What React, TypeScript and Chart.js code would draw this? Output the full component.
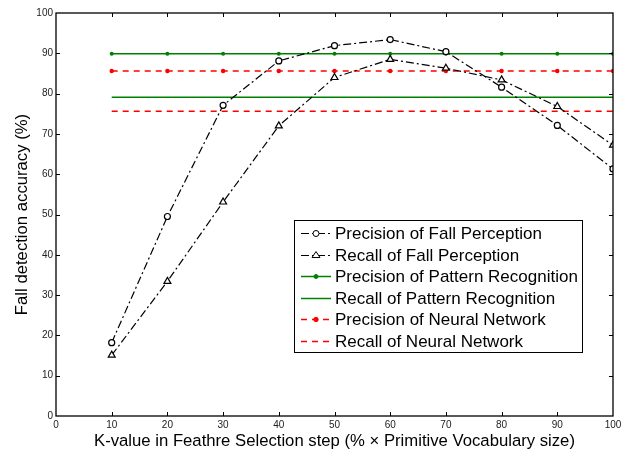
import React, { useEffect, useRef } from "react";
import { Chart, registerables } from "chart.js";

Chart.register(...registerables);

const kValues = [10, 20, 30, 40, 50, 60, 70, 80, 90, 100];
const precisionFall = [18.2, 49.5, 77.1, 88.1, 91.9, 93.4, 90.4, 81.6, 72.1, 61.3];
const recallFall = [15.1, 33.4, 53.1, 72.0, 84.0, 88.5, 86.3, 83.4, 76.8, 67.2];
const precisionPattern = [89.9, 89.9, 89.9, 89.9, 89.9, 89.9, 89.9, 89.9, 89.9, 89.9];
const recallPattern = [79.1, 79.1, 79.1, 79.1, 79.1, 79.1, 79.1, 79.1, 79.1, 79.1];
const precisionNeural = [85.6, 85.6, 85.6, 85.6, 85.6, 85.6, 85.6, 85.6, 85.6, 85.6];
const recallNeural = [75.6, 75.6, 75.6, 75.6, 75.6, 75.6, 75.6, 75.6, 75.6, 75.6];

const seriesLabels = [
  "Precision of Fall Perception",
  "Recall of Fall Perception",
  "Precision of Pattern Recognition",
  "Recall of Pattern Recognition",
  "Precision of Neural Network",
  "Recall of Neural Network",
];

const xTitle = "K-value in Feathre Selection step (% \u00d7 Primitive Vocabulary size)";
const yTitle = "Fall detection accuracy (%)";

const FONT = "'Liberation Sans', Arial, sans-serif";
const GREEN = "#008000";
const RED = "#ff0000";

const toPoints = (ys: number[]) => kValues.map((x, i) => ({ x, y: ys[i] }));

const framePlugin = {
  id: "frame",
  afterDatasetsDraw(chart: any) {
    const { ctx, chartArea } = chart;
    const { left, right, top, bottom } = chartArea;
    const xs = chart.scales.x;
    const ys = chart.scales.y;
    ctx.save();
    ctx.strokeStyle = "#000";
    ctx.lineWidth = 1.3;
    ctx.setLineDash([]);
    ctx.strokeRect(left, top, right - left, bottom - top);
    ctx.lineWidth = 1;
    const t = 4;
    for (let v = 10; v < 100; v += 10) {
      const px = Math.round(xs.getPixelForValue(v)) + 0.5;
      ctx.beginPath();
      ctx.moveTo(px, bottom);
      ctx.lineTo(px, bottom - t);
      ctx.moveTo(px, top);
      ctx.lineTo(px, top + t);
      ctx.stroke();
      const py = Math.round(ys.getPixelForValue(v)) + 0.5;
      ctx.beginPath();
      ctx.moveTo(left, py);
      ctx.lineTo(left + t, py);
      ctx.moveTo(right, py);
      ctx.lineTo(right - t, py);
      ctx.stroke();
    }
    ctx.restore();
  },
};

const legendPlugin = {
  id: "boxLegend",
  afterDraw(chart: any) {
    const { ctx } = chart;
    const bx = 294.5;
    const by = 220.5;
    const bw = 288;
    const bh = 132;
    ctx.save();
    ctx.fillStyle = "#fff";
    ctx.fillRect(bx, by, bw, bh);
    ctx.strokeStyle = "#000";
    ctx.lineWidth = 1;
    ctx.setLineDash([]);
    ctx.strokeRect(bx, by, bw, bh);
    ctx.font = `17px ${FONT}`;
    ctx.textBaseline = "middle";
    ctx.textAlign = "left";
    chart.data.datasets.forEach((ds: any, i: number) => {
      const y = Math.round(233 + i * 21.6) + 0.5;
      const x0 = 301;
      const x1 = 331;
      ctx.strokeStyle = ds.borderColor;
      ctx.lineWidth = ds.borderWidth;
      ctx.setLineDash(ds.borderDash || []);
      ctx.beginPath();
      ctx.moveTo(x0, y);
      ctx.lineTo(x1, y);
      ctx.stroke();
      ctx.setLineDash([]);
      const mx = (x0 + x1) / 2;
      const r = ds.pointRadius || 0;
      if (r > 0) {
        ctx.fillStyle = ds.pointBackgroundColor;
        ctx.strokeStyle = ds.pointBorderColor;
        ctx.lineWidth = 1;
        ctx.beginPath();
        if (ds.pointStyle === "triangle") {
          const h = r * 1.5;
          ctx.moveTo(mx, y - h * 0.66);
          ctx.lineTo(mx + r, y + h * 0.34);
          ctx.lineTo(mx - r, y + h * 0.34);
          ctx.closePath();
        } else {
          ctx.arc(mx, y, r, 0, Math.PI * 2);
        }
        ctx.fill();
        ctx.stroke();
      }
      ctx.fillStyle = "#000";
      ctx.fillText(ds.label, 335, y + 0.5);
    });
    ctx.restore();
  },
};

export default function App() {
  const ref = useRef<HTMLCanvasElement | null>(null);

  useEffect(() => {
    if (!ref.current) return;
    const chart = new Chart(ref.current, {
      type: "line",
      data: {
        datasets: [
          {
            label: seriesLabels[0],
            data: toPoints(precisionFall),
            borderColor: "#000",
            borderWidth: 1.2,
            borderDash: [8, 3, 2, 3],
            pointStyle: "circle",
            pointRadius: 3,
            pointBackgroundColor: "#fff",
            pointBorderColor: "#000",
            pointBorderWidth: 1.2,
          },
          {
            label: seriesLabels[1],
            data: toPoints(recallFall),
            borderColor: "#000",
            borderWidth: 1.2,
            borderDash: [8, 3, 2, 3],
            pointStyle: "triangle",
            pointRadius: 4,
            pointBackgroundColor: "#fff",
            pointBorderColor: "#000",
            pointBorderWidth: 1.2,
          },
          {
            label: seriesLabels[2],
            data: toPoints(precisionPattern),
            borderColor: GREEN,
            borderWidth: 1.5,
            pointStyle: "circle",
            pointRadius: 2,
            pointBackgroundColor: GREEN,
            pointBorderColor: GREEN,
            pointBorderWidth: 0,
          },
          {
            label: seriesLabels[3],
            data: toPoints(recallPattern),
            borderColor: GREEN,
            borderWidth: 1.5,
            pointRadius: 0,
          },
          {
            label: seriesLabels[4],
            data: toPoints(precisionNeural),
            borderColor: RED,
            borderWidth: 1.5,
            borderDash: [6, 5],
            pointStyle: "circle",
            pointRadius: 2.2,
            pointBackgroundColor: RED,
            pointBorderColor: RED,
            pointBorderWidth: 0,
          },
          {
            label: seriesLabels[5],
            data: toPoints(recallNeural),
            borderColor: RED,
            borderWidth: 1.5,
            borderDash: [6, 5],
            pointRadius: 0,
          },
        ] as any,
      },
      options: {
        animation: false,
        responsive: false,
        maintainAspectRatio: false,
        layout: { padding: { top: 13, right: 19, left: 0, bottom: 0 } },
        plugins: {
          legend: { display: false },
          tooltip: { enabled: false },
        },
        elements: { line: { tension: 0, fill: false } },
        scales: {
          x: {
            type: "linear",
            min: 0,
            max: 100,
            grid: { display: false, drawTicks: false },
            border: { display: false },
            ticks: {
              stepSize: 10,
              font: { family: FONT, size: 10 },
              color: "#222",
              padding: 3,
              maxRotation: 0,
            },
            title: {
              display: true,
              text: xTitle,
              font: { family: FONT, size: 16.7 },
              color: "#000",
              padding: { top: 0, bottom: -1 },
            },
            afterFit: (s: any) => {
              s.height = 34;
            },
          },
          y: {
            type: "linear",
            min: 0,
            max: 100,
            grid: { display: false, drawTicks: false },
            border: { display: false },
            ticks: {
              stepSize: 10,
              font: { family: FONT, size: 10 },
              color: "#222",
              padding: 3,
            },
            title: {
              display: true,
              text: yTitle,
              font: { family: FONT, size: 16.7 },
              color: "#000",
              padding: { top: 12, bottom: 0 },
            },
            afterFit: (s: any) => {
              s.width = 56;
            },
          },
        },
      } as any,
      plugins: [framePlugin, legendPlugin],
    });
    return () => chart.destroy();
  }, []);

  return (
    <div style={{ position: "fixed", left: 0, top: 0, width: 632, height: 450, background: "#fff" }}>
      <canvas ref={ref} width={632} height={450} style={{ width: 632, height: 450 }} />
    </div>
  );
}
